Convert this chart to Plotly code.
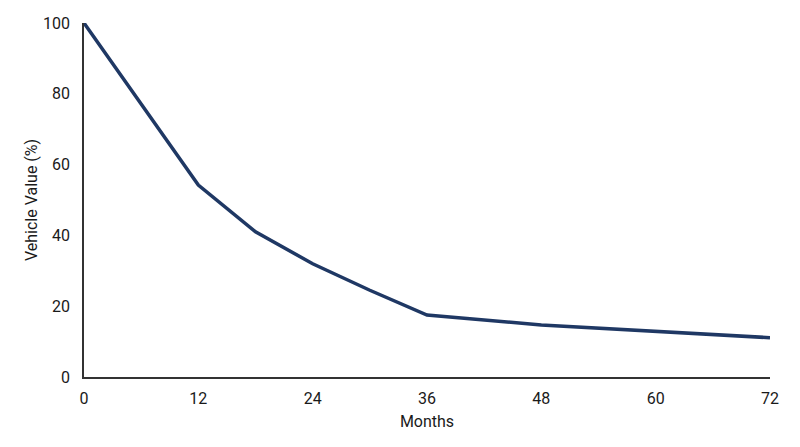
import plotly.graph_objects as go

months = [0, 12, 18, 24, 30, 36, 48, 60, 72]
value_pct = [100, 54.2, 41, 32, 24.5, 17.5, 14.7, 12.8, 11.1]
x_ticks = [0, 12, 24, 36, 48, 60, 72]
y_ticks = [0, 20, 40, 60, 80, 100]

fig = go.Figure()
fig.add_trace(go.Scatter(
    x=months, y=value_pct, mode="lines",
    line=dict(color="#1f3864", width=3.5),
    cliponaxis=False, showlegend=False,
))

fig.update_layout(
    width=800, height=447,
    margin=dict(l=76, r=38, t=15, b=78),
    paper_bgcolor="white", plot_bgcolor="white",
    font=dict(family="Roboto", size=16, color="#1a1a1a"),
)
fig.update_xaxes(
    range=[0, 72], tickvals=x_ticks, ticktext=[str(v) for v in x_ticks],
    showgrid=False, zeroline=False, showline=True, linecolor="#333333", linewidth=1.5,
    ticks="", ticklabelstandoff=6, automargin=False,
    title=dict(text="Months", font=dict(size=16), standoff=9),
)
fig.update_yaxes(
    range=[0, 100], tickvals=y_ticks, ticktext=[str(v) for v in y_ticks],
    showgrid=False, zeroline=False, showline=True, linecolor="#333333", linewidth=1.5,
    ticks="", ticklabelstandoff=9, automargin=False,
    title=dict(text="Vehicle Value (%)", font=dict(size=16), standoff=1),
)

fig.write_html("out.html")
